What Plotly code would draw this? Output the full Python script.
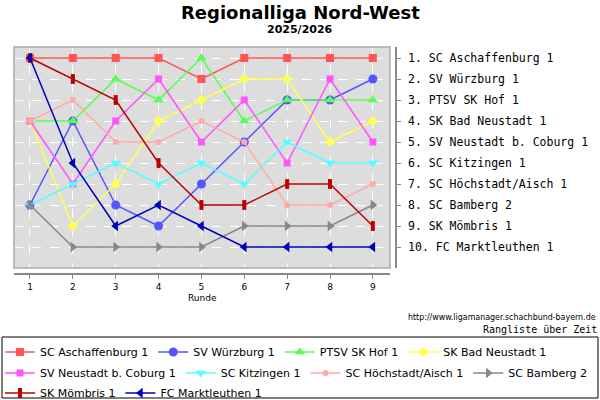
import plotly.graph_objects as go

rounds = [1, 2, 3, 4, 5, 6, 7, 8, 9]

# teams in final table order
teams = [
    "SC Aschaffenburg 1",
    "SV Würzburg 1",
    "PTSV SK Hof 1",
    "SK Bad Neustadt 1",
    "SV Neustadt b. Coburg 1",
    "SC Kitzingen 1",
    "SC Höchstadt/Aisch 1",
    "SC Bamberg 2",
    "SK Mömbris 1",
    "FC Marktleuthen 1",
]

# rank after each round
aschaffenburg = [1, 1, 1, 1, 2, 1, 1, 1, 1]
wuerzburg = [8, 4, 8, 9, 7, 5, 3, 3, 2]
hof = [4, 4, 2, 3, 1, 4, 3, 3, 3]
bad_neustadt = [4, 9, 7, 4, 3, 2, 2, 5, 4]
coburg = [4, 7, 4, 2, 5, 3, 6, 2, 5]
kitzingen = [8, 7, 6, 7, 6, 7, 5, 6, 6]
hoechstadt = [4, 3, 5, 5, 4, 5, 8, 8, 7]
bamberg = [8, 10, 10, 10, 10, 9, 9, 9, 8]
moembris = [1, 2, 3, 6, 8, 8, 7, 7, 9]
marktleuthen = [1, 6, 9, 8, 9, 10, 10, 10, 10]

ranks = [aschaffenburg, wuerzburg, hof, bad_neustadt, coburg,
         kitzingen, hoechstadt, bamberg, moembris, marktleuthen]

colors = ["#ff5555", "#5555ff", "#55ff55", "#ffff55", "#ff55ff",
          "#55ffff", "#ffaaaa", "#888888", "#bb0000", "#0000bb"]
symbols = ["square", "circle", "triangle-up", "diamond", "square",
           "triangle-down", "circle", "triangle-right", "line-ns", "triangle-left"]
sizes = [8, 9, 9, 8, 7, 9, 6, 9, 7, 9]
# legend row each team sits in (one plotly legend per row)
legend_rows = ["legend", "legend", "legend", "legend",
               "legend2", "legend2", "legend2", "legend2",
               "legend3", "legend3"]

fig = go.Figure()
for name, r, c, s, sz, lg in zip(teams, ranks, colors, symbols, sizes, legend_rows):
    marker = dict(color=c, size=sz, symbol=s)
    if s == "line-ns":
        marker["line"] = dict(color=c, width=4)
    fig.add_trace(go.Scatter(
        x=rounds, y=r, mode="lines+markers", name=name,
        line=dict(color=c, width=1.5),
        marker=marker,
        legend=lg,
    ))

legend_style = dict(
    orientation="h", x=0.0, xanchor="left", yanchor="middle",
    font=dict(family="DejaVu Sans", size=11),
    itemwidth=30, bgcolor="rgba(0,0,0,0)", borderwidth=0,
)


def label(text, x, y, size, xanchor="center", **font):
    return dict(text=text, x=x, y=y, xref="paper", yref="paper",
                xanchor=xanchor, yanchor="middle", showarrow=False,
                font=dict(size=size, **font))


fig.update_layout(
    width=600, height=400,
    margin=dict(l=0, r=0, t=0, b=0, autoexpand=False),
    paper_bgcolor="white",
    plot_bgcolor="#dddddd",
    font=dict(family="DejaVu Sans", size=9, color="black"),
    showlegend=True,
    legend=dict(legend_style, y=48 / 400),
    legend2=dict(legend_style, y=27 / 400),
    legend3=dict(legend_style, y=7 / 400),
    xaxis=dict(
        domain=[14 / 600, 390 / 600],
        range=[0.627, 9.4],
        tickvals=rounds,
        anchor="free", position=0.315,
        showline=True, linecolor="#888888", linewidth=1.5,
        ticks="outside", ticklen=4, tickcolor="#888888",
        showgrid=True, gridcolor="white", griddash="dash", gridwidth=1,
        zeroline=False,
        tickfont=dict(size=9),
    ),
    yaxis=dict(
        domain=[0.33, 0.8825],
        range=[11, 0.476],
        tickvals=list(range(1, 11)),
        ticktext=[f"{i}. {t}" for i, t in enumerate(teams, 1)],
        side="right", anchor="free", position=0.66,
        showline=True, linecolor="#888888", linewidth=1.5,
        ticks="outside", ticklen=4, tickcolor="#888888",
        ticklabelstandoff=5,
        showgrid=True, gridcolor="white", griddash="dash", gridwidth=1,
        zeroline=False,
        tickfont=dict(family="DejaVu Sans Mono", size=11.5),
    ),
    shapes=[
        dict(type="rect", xref="paper", yref="paper",
             x0=14 / 600, x1=390 / 600, y0=0.33, y1=0.8825,
             line=dict(color="#aaaaaa", width=1.5)),
        dict(type="rect", xref="paper", yref="paper",
             x0=2 / 600, x1=598 / 600, y0=2 / 400, y1=63 / 400,
             line=dict(color="black", width=1)),
    ],
    annotations=[
        label("<b>Regionalliga Nord-West</b>", 0.5, 388 / 400, 18),
        label("<b>2025/2026</b>", 0.5, 370 / 400, 11),
        label("Runde", 202 / 600, 102 / 400, 9),
        label("http://www.ligamanager.schachbund-bayern.de", 598 / 600, 83 / 400, 8.8,
              xanchor="right", family="DejaVu Sans Condensed, DejaVu Sans"),
        label("Rangliste über Zeit", 599 / 600, 71 / 400, 10,
              xanchor="right", family="DejaVu Sans Mono"),
    ],
)

# drop the default page margin so the 600x400 figure fills the window
fig.write_html("out.html", config={"displayModeBar": False},
               post_script="document.body.style.margin='0';")
